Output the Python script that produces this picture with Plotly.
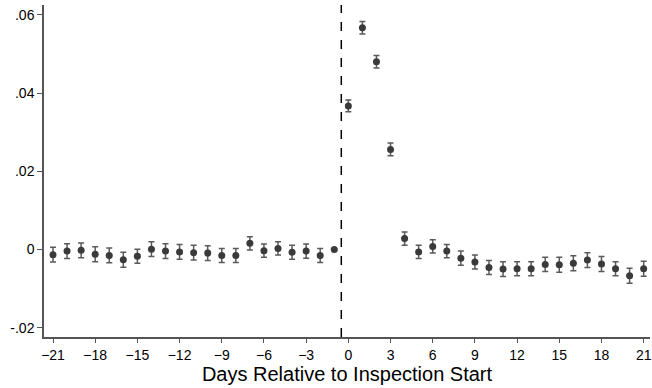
import plotly.graph_objects as go

days = list(range(-21, 22))
coef = [-0.0013, -0.0004, -0.0002, -0.0012, -0.0015, -0.0026, -0.0017,
        0.0001, -0.0004, -0.0006, -0.0008, -0.0009, -0.0015, -0.0015,
        0.0016, -0.0003, 0.0003, -0.0007, -0.0004, -0.0015, 0.0,
        0.0367, 0.0567, 0.0480, 0.0256, 0.0028, -0.0006, 0.0008,
        -0.0004, -0.0022, -0.0032, -0.0046, -0.0050, -0.0049, -0.0049,
        -0.0038, -0.0039, -0.0035, -0.0027, -0.0037, -0.0049, -0.0067, -0.0049]
se_half = [0.0019, 0.0019, 0.0019, 0.0019, 0.0019, 0.0019, 0.0018,
           0.0019, 0.0019, 0.0019, 0.0019, 0.0019, 0.0018, 0.0018,
           0.0017, 0.0017, 0.0017, 0.0018, 0.0018, 0.0018, 0.0,
           0.0015, 0.0016, 0.0016, 0.0016, 0.0017, 0.0017, 0.0017,
           0.0017, 0.0018, 0.0018, 0.0018, 0.0019, 0.0018, 0.0018,
           0.0018, 0.0019, 0.0019, 0.0019, 0.0019, 0.0018, 0.0019, 0.0019]

xtick_vals = list(range(-21, 22, 3))
ytick_vals = [-0.02, 0, 0.02, 0.04, 0.06]
ytick_text = ["-.02", "0", ".02", ".04", ".06"]

fig = go.Figure()
fig.add_trace(go.Scatter(
    x=days, y=coef, mode="markers",
    marker=dict(color="#3a3a3a", size=7),
    error_y=dict(type="data", array=se_half, visible=True,
                 color="#5a5a5a", thickness=1.5, width=3),
    showlegend=False,
))
fig.add_vline(x=-0.5, line=dict(color="black", width=1.5, dash="dash"))

fig.update_layout(
    width=652, height=388,
    margin=dict(l=44, r=0, t=5, b=51),
    plot_bgcolor="white", paper_bgcolor="white",
    font=dict(family="Liberation Sans", color="black", size=14),
)
fig.update_xaxes(
    range=[-21.64, 21.45], tickvals=xtick_vals, showgrid=False, zeroline=False,
    showline=True, linecolor="#555555", linewidth=1.5,
    ticks="outside", ticklen=4, tickcolor="#555555", tickwidth=1,
    tickfont=dict(size=14), ticklabeloverflow="allow",
    title=dict(text="Days Relative to Inspection Start", font=dict(size=20), standoff=0),
)
fig.update_yaxes(
    range=[-0.02235, 0.0625], tickvals=ytick_vals, ticktext=ytick_text,
    showgrid=False, zeroline=False,
    showline=True, linecolor="#555555", linewidth=1.5,
    ticks="outside", ticklen=5, tickcolor="#555555", tickwidth=1,
    tickfont=dict(size=14),
)
fig.write_html("out.html")
